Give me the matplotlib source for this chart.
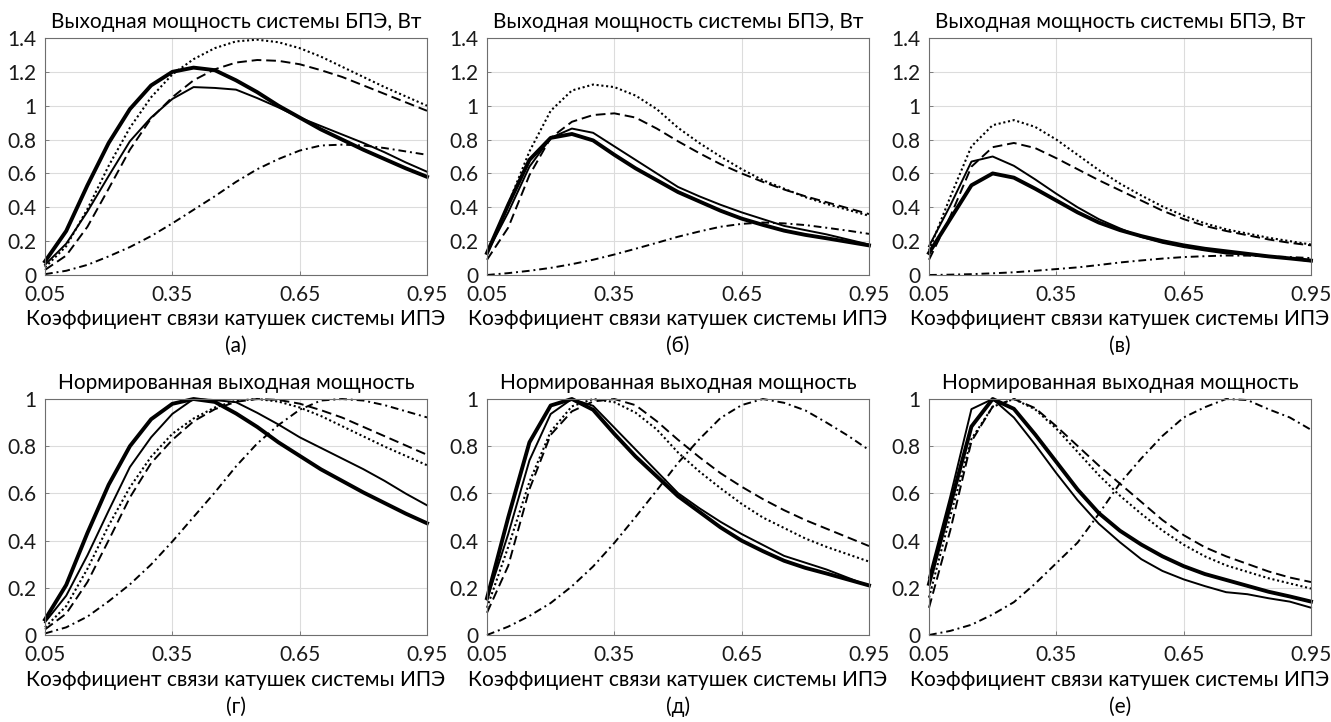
import numpy as np
import matplotlib
matplotlib.use('Agg')
import matplotlib.pyplot as plt

plt.rcParams['font.family'] = ['Lato', 'DejaVu Sans']

# coupling coefficient grid
x = [0.05, 0.10, 0.15, 0.20, 0.25, 0.30, 0.35, 0.40, 0.45, 0.50,
     0.55, 0.60, 0.65, 0.70, 0.75, 0.80, 0.85, 0.90, 0.95]

# panel (а), output power, W
a_thick = [0.08, 0.26, 0.53, 0.78, 0.98, 1.12, 1.20, 1.225, 1.21, 1.15, 1.08, 1.00, 0.93, 0.86, 0.80, 0.74, 0.685, 0.63, 0.58]
a_thin = [0.06, 0.185, 0.375, 0.585, 0.79, 0.93, 1.04, 1.11, 1.105, 1.095, 1.045, 0.99, 0.93, 0.88, 0.83, 0.78, 0.725, 0.665, 0.61]
a_dot = [0.045, 0.17, 0.39, 0.645, 0.87, 1.05, 1.185, 1.275, 1.34, 1.38, 1.39, 1.375, 1.34, 1.29, 1.23, 1.17, 1.11, 1.055, 1.0]
a_dash = [0.03, 0.115, 0.285, 0.51, 0.74, 0.925, 1.05, 1.15, 1.215, 1.255, 1.27, 1.265, 1.245, 1.21, 1.17, 1.12, 1.07, 1.02, 0.97]
a_dashdot = [0.005, 0.025, 0.06, 0.11, 0.165, 0.23, 0.305, 0.385, 0.465, 0.55, 0.625, 0.685, 0.735, 0.765, 0.77, 0.765, 0.75, 0.73, 0.71]

# panel (б)
b_thick = [0.13, 0.415, 0.68, 0.81, 0.833, 0.795, 0.71, 0.63, 0.56, 0.49, 0.435, 0.38, 0.333, 0.296, 0.262, 0.237, 0.217, 0.196, 0.175]
b_thin = [0.13, 0.37, 0.64, 0.81, 0.865, 0.84, 0.76, 0.68, 0.60, 0.52, 0.465, 0.415, 0.37, 0.33, 0.29, 0.265, 0.24, 0.21, 0.18]
b_dot = [0.13, 0.42, 0.73, 0.97, 1.09, 1.125, 1.11, 1.06, 0.98, 0.87, 0.78, 0.70, 0.625, 0.56, 0.51, 0.46, 0.42, 0.385, 0.35]
b_dash = [0.09, 0.28, 0.59, 0.81, 0.905, 0.945, 0.955, 0.93, 0.865, 0.79, 0.72, 0.655, 0.60, 0.55, 0.505, 0.465, 0.43, 0.395, 0.36]
b_dashdot = [0.0, 0.011, 0.025, 0.042, 0.064, 0.09, 0.121, 0.155, 0.19, 0.226, 0.257, 0.285, 0.302, 0.31, 0.305, 0.295, 0.279, 0.262, 0.243]

# panel (в)
c_thick = [0.13, 0.33, 0.53, 0.60, 0.575, 0.51, 0.44, 0.37, 0.31, 0.265, 0.23, 0.20, 0.175, 0.155, 0.14, 0.125, 0.11, 0.098, 0.085]
c_thin = [0.17, 0.41, 0.67, 0.70, 0.645, 0.565, 0.48, 0.40, 0.33, 0.275, 0.225, 0.19, 0.165, 0.145, 0.127, 0.121, 0.109, 0.099, 0.081]
c_dot = [0.145, 0.46, 0.76, 0.885, 0.915, 0.875, 0.80, 0.71, 0.62, 0.54, 0.47, 0.405, 0.35, 0.305, 0.27, 0.245, 0.22, 0.20, 0.18]
c_dash = [0.09, 0.345, 0.64, 0.755, 0.78, 0.75, 0.69, 0.625, 0.56, 0.50, 0.44, 0.38, 0.33, 0.29, 0.26, 0.235, 0.21, 0.19, 0.175]
c_dashdot = [0.0, 0.002, 0.005, 0.01, 0.016, 0.025, 0.035, 0.045, 0.059, 0.074, 0.086, 0.097, 0.106, 0.111, 0.115, 0.1145, 0.11, 0.106, 0.1]

panels = [
    [a_thick, a_thin, a_dot, a_dash, a_dashdot],
    [b_thick, b_thin, b_dot, b_dash, b_dashdot],
    [c_thick, c_thin, c_dot, c_dash, c_dashdot],
]
top_labels = ['(а)', '(б)', '(в)']
bottom_labels = ['(г)', '(д)', '(е)']

xticks = [0.05, 0.35, 0.65, 0.95]
xtick_labels = ['0.05', '0.35', '0.65', '0.95']
top_yticks = [0, 0.2, 0.4, 0.6, 0.8, 1.0, 1.2, 1.4]
top_ytick_labels = ['0', '0.2', '0.4', '0.6', '0.8', '1', '1.2', '1.4']
bot_yticks = [0, 0.2, 0.4, 0.6, 0.8, 1.0]
bot_ytick_labels = ['0', '0.2', '0.4', '0.6', '0.8', '1']

top_title = 'Выходная мощность системы БПЭ, Вт'
bot_title = 'Нормированная выходная мощность'
xlabel = 'Коэффициент связи катушек системы ИПЭ'

# thick solid, thin solid, dotted, dashed, dash-dot
styles = [
    dict(ls='-', lw=2.8),
    dict(ls='-', lw=1.4),
    dict(ls=(0, (1, 1.3)), lw=1.5),
    dict(ls=(0, (5, 2.5)), lw=1.4),
    dict(ls=(0, (4, 2, 1, 2)), lw=1.4),
]

W, H = 1331, 722
fig = plt.figure(figsize=(W / 100, H / 100), dpi=100)
lefts = [45, 487, 929]
aw = 382
rows = [(38, 275), (399, 635)]
fs = 15


def add_ax(left, top, bottom):
    return fig.add_axes([left / W, 1 - bottom / H, aw / W, (bottom - top) / H])


def style_ax(ax, yticks, ylabels, ymax):
    ax.set_xlim(0.05, 0.95)
    ax.set_ylim(0, ymax)
    ax.set_xticks(xticks)
    ax.set_xticklabels(xtick_labels)
    ax.set_yticks(yticks)
    ax.set_yticklabels(ylabels)
    ax.grid(True, color='#dcdcdc', lw=0.8)
    ax.set_axisbelow(True)
    for s in ax.spines.values():
        s.set_color('#6e6e6e')
        s.set_linewidth(0.8)
    ax.tick_params(direction='in', length=3, width=0.6, color='#6e6e6e',
                   labelsize=fs, labelcolor='#1a1a1a')
    ax.tick_params(axis='x', pad=7)
    ax.tick_params(axis='y', pad=6)


for i in range(3):
    cx = (lefts[i] + aw / 2) / W
    # top row: absolute power
    ax = add_ax(lefts[i], rows[0][0], rows[0][1])
    for series, st in reversed(list(zip(panels[i], styles))):
        ax.plot(x, series, color='black', clip_on=False, **st)
    style_ax(ax, top_yticks, top_ytick_labels, 1.4)
    fig.text(cx, 1 - 22 / H, top_title, ha='center', va='center', fontsize=fs)
    fig.text(cx, 1 - 319 / H, xlabel, ha='center', va='center', fontsize=fs)
    fig.text(cx, 1 - 346 / H, top_labels[i], ha='center', va='center', fontsize=fs)

    # bottom row: normalized power
    ax = add_ax(lefts[i], rows[1][0], rows[1][1])
    for series, st in reversed(list(zip(panels[i], styles))):
        arr = np.array(series)
        ax.plot(x, arr / arr.max(), color='black', clip_on=False, **st)
    style_ax(ax, bot_yticks, bot_ytick_labels, 1.0)
    fig.text(cx, 1 - 383 / H, bot_title, ha='center', va='center', fontsize=fs)
    fig.text(cx, 1 - 680 / H, xlabel, ha='center', va='center', fontsize=fs)
    fig.text(cx, 1 - 707 / H, bottom_labels[i], ha='center', va='center', fontsize=fs)

fig.savefig('out.png', dpi=100)
